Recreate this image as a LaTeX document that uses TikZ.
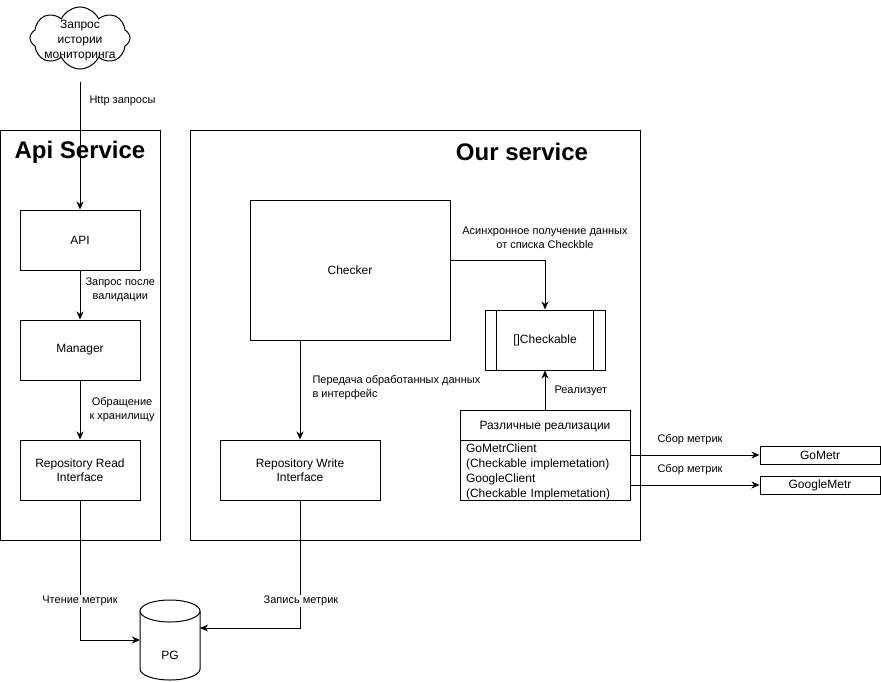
\documentclass[tikz,border=0pt]{standalone}
\usepackage{fontspec}
\setmainfont{Liberation Sans}
\usetikzlibrary{shapes.symbols,arrows.meta}
\begin{document}
\begin{tikzpicture}[x=1pt,y=-1pt,line width=1pt,
  box/.style={draw, fill=white, align=center, inner sep=0pt, font=\fontsize{12}{14.5}\selectfont},
  frame/.style={draw, inner sep=0pt},
  ttl/.style={font=\bfseries\fontsize{24}{28}\selectfont, inner sep=0pt},
  lbl/.style={font=\fontsize{11}{14}\selectfont, inner sep=1pt, align=center},
  wlbl/.style={lbl, fill=white},
  arr/.style={-{Stealth[length=8pt,width=7pt,inset=2.5pt]}}
]
\useasboundingbox (0,0) rectangle (881,681);
% frames
\node[frame, minimum width=160, minimum height=410] (apisvc) at (80.5,335) {};
\node[frame, minimum width=450, minimum height=410] (oursvc) at (415,335) {};
\node[ttl] (apittl) at (80,152) {Api Service};
\node[ttl] (ourttl) at (522,152) {Our service};
% cloud
\node[cloud, draw, cloud puffs=8, cloud puff arc=130, aspect=1.7, minimum width=100, minimum height=62, inner sep=0pt] (cloud) at (80,38) {};
\node[align=center, inner sep=0pt, font=\fontsize{12}{15}\selectfont] (cloudtxt) at (80,41) {Запрос\\истории\\мониторинга};
\coordinate (cloudout) at (80,82);
% api side
\node[box, minimum width=120, minimum height=60] (api) at (80,240) {API};
\node[box, minimum width=120, minimum height=60] (mgr) at (80,350) {Manager};
\node[box, minimum width=120, minimum height=60] (repr) at (80,470) {Repository Read\\Interface};
% our side
\node[box, minimum width=200, minimum height=140] (checker) at (350,270) {Checker};
\node[box, minimum width=160, minimum height=60] (repw) at (300,470) {Repository Write\\Interface};
\node[box, minimum width=120, minimum height=60] (checkable) at (545,340) {[]Checkable};
\draw ([xshift=12pt]checkable.north west) -- ([xshift=12pt]checkable.south west);
\draw ([xshift=-12pt]checkable.north east) -- ([xshift=-12pt]checkable.south east);
\node[box, minimum width=170, minimum height=30] (impl) at (545,425) {};
\node[inner sep=0pt, font=\fontsize{12}{14.5}\selectfont] (impltxt) at (545,426.5) {Различные реализации};
\node[box, minimum width=170, minimum height=60] (implbody) at (545,470) {};
\node[inner sep=0pt, text width=158, align=left, font=\fontsize{12}{15}\selectfont] (implbodytxt) at (545,471.5) {GoMetrClient\\(Checkable implemetation)\\GoogleClient\\(Checkable Implemetation)};
\node[box, minimum width=120, minimum height=18] (gometr) at (820,455) {GoMetr};
\node[box, minimum width=120, minimum height=18] (googlemetr) at (820,485) {GoogleMetr};
% PG cylinder
\draw[fill=white] (140,611) -- (140,669) arc[start angle=180, end angle=0, x radius=30, y radius=11] -- (200,611);
\draw[fill=white] (170,611) ellipse[x radius=30, y radius=11];
\node[inner sep=0pt, font=\fontsize{12}{14}\selectfont] (pg) at (170,655) {PG};
\coordinate (pgL) at (140,640);
\coordinate (pgR) at (200,628);
% connectors
\draw[arr] (cloudout) -- (api.north);
\node[lbl, anchor=west] (lhttp) at (88,101) {Http запросы};
\draw[arr] (api.south) -- (mgr.north);
\node[lbl, anchor=west] (lval) at (84,290) {Запрос после\\валидации};
\draw[arr] (mgr.south) -- (repr.north);
\node[lbl, anchor=west] (lstore) at (88,410) {Обращение\\к хранилищу};
\draw[arr] ([yshift=10pt]checker.east) -| (checkable.north);
\node[lbl] (lasync) at (545,238) {Асинхронное получение данных\\от списка Checkble};
\draw[arr] (repw.north |- checker.south) -- (repw.north);
\node[lbl, anchor=west, align=left] (lpass) at (311,388) {Передача обработанных данных\\в интерфейс};
\draw[arr] (impl.north) -- (checkable.south);
\node[lbl, anchor=west] (lreal) at (553,391) {Реализует};
\draw[arr] (gometr -| implbody.east) -- (gometr.west);
\draw[arr] (googlemetr -| implbody.east) -- (googlemetr.west);
\node[lbl] (lsbor1) at (690,440) {Сбор метрик};
\node[lbl] (lsbor2) at (690,470) {Сбор метрик};
\draw[arr] (repr.south) |- (pgL);
\node[wlbl] (lread) at (80,601) {Чтение метрик};
\draw[arr] (repw.south) |- (pgR);
\node[wlbl] (lwrite) at (301,601) {Запись метрик};
\end{tikzpicture}
\end{document}
